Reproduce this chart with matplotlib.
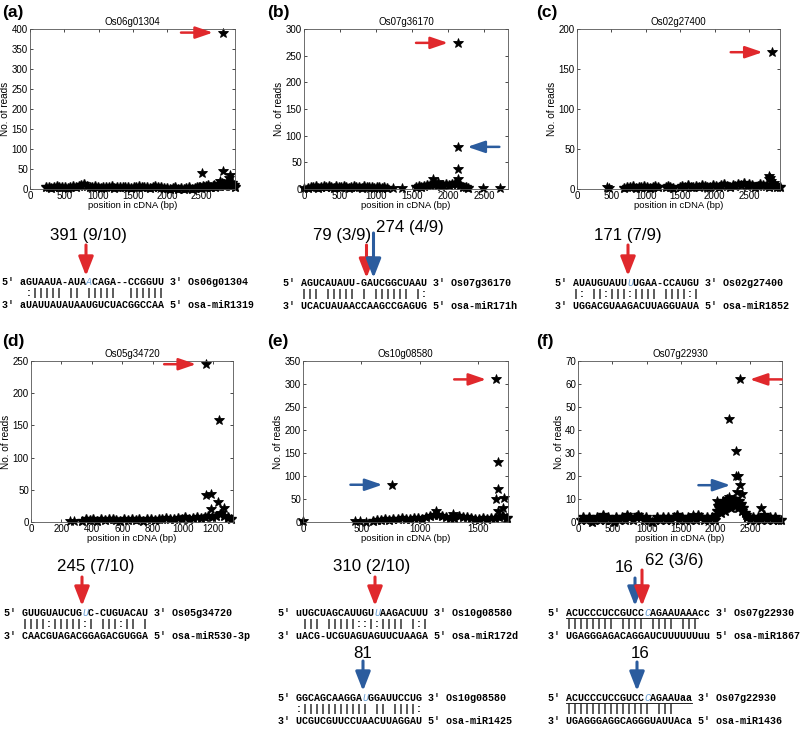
import numpy as np
import matplotlib
matplotlib.use("Agg")
import matplotlib.pyplot as plt
from matplotlib.patches import FancyArrowPatch
from matplotlib.lines import Line2D

plt.rcParams["font.family"] = ["Liberation Sans", "DejaVu Sans"]

W, H = 800, 730
RED = "#e0282c"
BLUE = "#2b5c9e"
CUT = "#6a9fd4"
SEQ_FONT = "Liberation Mono"
SEQ_FS = 7.2
NUM_FS = 12.2
AX_FS = 7

# ---------------- read counts along each cDNA ----------------
# low-coverage stretches: (first bp, last bp, reads sampled along the stretch)
a_low = [
    (230, 1950, [4, 6, 3, 5, 7, 4, 6, 5, 3, 6, 8, 5, 7, 10, 13, 8, 6, 4, 7, 5, 3, 6,
                 4, 5, 7, 3, 5, 6, 4, 6, 5, 3, 4, 6, 7, 5, 4, 6, 3, 5, 7, 4, 6, 3]),
    (2000, 2440, [3, 0, 2, 4, 1, 3, 0, 2, 4, 1, 3, 5]),
    (2460, 2990, [4, 6, 3, 8, 5, 7, 4, 9, 6, 5, 7, 10, 6, 8, 12, 7, 9, 15, 8, 10, 18,
                  9, 12, 7, 14, 9, 6]),
]
a_peak_x = [2505, 2810, 2810, 2770, 2915, 2905, 2930]
a_peak_y = [40, 391, 45, 20, 35, 27, 14]

b_low = [
    (60, 1150, [2, 4, 3, 5, 2, 4, 6, 3, 5, 4, 2, 5, 3, 4, 6, 3, 2, 4, 5, 3, 4, 2, 5,
                3, 4, 3, 2, 4, 3, 2, 3, 2]),
    (1550, 2280, [3, 5, 4, 6, 8, 7, 10, 9, 8, 6, 7, 9, 8, 10, 12, 9, 7, 4, 3, 2]),
]
b_peak_x = [0, 1240, 1360, 2480, 2720, 2132, 2132, 2132, 2132, 1794, 1863]
b_peak_y = [1, 1, 1, 1, 1, 274, 79, 38, 18, 18, 14]

c_low = [
    (690, 1180, [1, 3, 2, 4, 1, 3, 2, 4, 3, 1, 2, 4, 2]),
    (1290, 1390, [2, 4, 3, 1]),
    (1490, 2950, [2, 4, 3, 5, 3, 2, 4, 3, 5, 4, 2, 3, 5, 4, 3, 5, 6, 4, 3, 5, 4, 6,
                  5, 7, 4, 6, 5, 3, 4, 6, 5, 4, 3, 5, 4, 2, 3]),
]
c_peak_x = [440, 470, 2839, 2795, 2810, 2785, 2825, 2860, 2880]
c_peak_y = [2, 1, 171, 16, 14, 12, 10, 8, 5]

d_low = [
    (335, 1320, [2, 4, 3, 5, 2, 4, 3, 5, 4, 3, 2, 4, 3, 5, 3, 4, 2, 5, 4, 3, 5, 4,
                 6, 5, 4, 6, 5, 7, 5, 6, 8, 6, 7, 9, 8, 10, 12, 9, 8, 5]),
]
d_peak_x = [260, 285, 1151, 1241, 1151, 1184, 1184, 1228, 1272, 1250, 1295]
d_peak_y = [1, 1, 245, 158, 42, 43, 20, 31, 22, 14, 6]

e_low = [
    (600, 1750, [3, 5, 4, 6, 5, 7, 6, 8, 7, 6, 8, 9, 7, 10, 12, 15, 16, 14, 10, 8,
                 9, 12, 11, 11, 8, 7, 6, 8, 7, 9, 8, 10, 12, 9]),
]
e_peak_x = [0, 445, 490, 540, 763, 1651, 1666, 1672, 1654, 1720, 1714, 1672, 1137,
            1286, 1700, 1740]
e_peak_y = [3, 2, 3, 1, 81, 310, 130, 72, 50, 53, 30, 25, 25, 18, 12, 8]

f_low = [
    (40, 1990, [1, 2, 1, 2, 0, 1, 2, 1, 3, 1, 2, 1, 0, 2, 1, 2, 1, 3, 2, 1, 2, 3, 2,
                1, 2, 1, 0, 1, 2, 1, 2, 1, 2, 1, 2, 3, 1, 2, 1, 2, 1, 2, 1, 3, 2, 1,
                2, 1, 2, 1]),
    (2000, 2450, [3, 5, 7, 6, 8, 4, 6, 9, 7, 5, 8, 10, 9, 7, 8, 6, 9, 8, 10, 7, 9, 8,
                  6, 9, 7, 8, 5, 6, 4, 3, 2]),
    (2460, 2950, [2, 1, 2, 1, 2, 1, 3, 1, 2, 1, 2, 1, 1]),
]
f_peak_x = [2356, 2201, 2293, 2300, 2320, 2356, 2380, 2307, 2196, 2022, 2660, 1678]
f_peak_y = [62, 45, 31, 20, 20, 16, 12, 13, 11, 9, 6, 3]

genes = ["Os06g01304", "Os07g36170", "Os02g27400", "Os05g34720", "Os10g08580", "Os07g22930"]
panel_tags = ["(a)", "(b)", "(c)", "(d)", "(e)", "(f)"]
x_max = [2990, 2830, 2950, 1330, 1755, 2965]
x_step = [500, 500, 500, 200, 500, 500]
x_last = [2500, 2500, 2500, 1200, 1500, 2500]
y_max = [400, 300, 200, 250, 350, 70]
y_step = [50, 50, 50, 50, 50, 10]

# cleavage peaks pointed at inside the plots: (bp, reads, arrow comes from, colour)
a_marks = [(2810, 391, "left", RED)]
b_marks = [(2132, 274, "left", RED), (2132, 79, "right", BLUE)]
c_marks = [(2839, 171, "left", RED)]
d_marks = [(1151, 245, "left", RED)]
e_marks = [(1651, 310, "left", RED), (763, 81, "left", BLUE)]
f_marks = [(2356, 62, "right", RED), (2356, 16, "left", BLUE)]

# ---------------- target / miRNA duplexes ----------------
a_target, a_pairs, a_mirna = "aGUAAUA-AUAACAGA--CCGGUU", " :||||| || |||||  ||||||", "aUAUUAUAUAAUGUCUACGGCCAA"
b_target, b_pairs, b_mirna = "AGUCAUAUU-GAUCGGCUAAU", "||| ||||| | |||||| |:", "UCACUAUAACCAAGCCGAGUG"
c_target, c_pairs, c_mirna = "AUAUGUAUUUUGAA-CCAUGU", "|: ||:|||:|||| ||||:|", "UGGACGUAAGACUUAGGUAUA"
d_target, d_pairs, d_mirna = "GUUGUAUCUGUC-CUGUACAU", "||||:|||||:| |||:|| |", "CAACGUAGACGGAGACGUGGA"
e1_target, e1_pairs, e1_mirna = "uUGCUAGCAUUGUUAAGACUUU", " ||| |||||::|:|||| |:|", "uACG-UCGUAGUAGUUCUAAGA"
e2_target, e2_pairs, e2_mirna = "GGCAGCAAGGAUGGAUUCCUG", ":||||||||||| || ||||:", "UCGUCGUUCCUAACUUAGGAU"
f1_target, f1_pairs, f1_mirna = "ACUCCCUCCGUCCCAGAAUAAAcc", "|||||||| |||| |||| |||", "UGAGGGAGACAGGAUCUUUUUUuu"
f2_target, f2_pairs, f2_mirna = "ACUCCCUCCGUCCCAGAAUaa", "|||||||||||||| |||", "UGAGGGAGGCAGGGUAUUAca"
mirnas = ["osa-miR1319", "osa-miR171h", "osa-miR1852", "osa-miR530-3p",
          "osa-miR172d", "osa-miR1425", "osa-miR1867", "osa-miR1436"]
cut_index = [11, None, 9, 10, 13, 11, 13, 13]
underlined = [0, 0, 0, 0, 0, 0, 22, 21]

# ---------------- layout (pixels from the top-left corner) ----------------
ax_boxes = [(30, 29, 235, 189), (304, 29, 508, 189), (577, 29, 780, 189),
            (31, 361, 233, 522), (303, 361, 508, 522), (578, 361, 782, 522)]
tag_pos = [(2, 5), (267, 5), (536, 5), (2, 334), (267, 334), (536, 334)]
seq_pos = [(2, 282), (283, 283), (555, 283), (4, 613), (278, 613), (278, 698),
           (548, 613), (548, 698)]


def fig_x(x):
    return x / W


def fig_y(y):
    return 1 - y / H


def draw_panel(fig, box, gene, xmax, xstep, xlast, ymax, ystep, low, px, py, marks):
    l, t, r, b = box
    ax = fig.add_axes([fig_x(l), fig_y(b), (r - l) / W, (b - t) / H])
    for start, stop, vals in low:
        xs = np.linspace(start, stop, len(vals))
        ax.plot(xs, vals, "*", color="k", ms=7.8, mew=1.0, clip_on=False)
    ax.plot(px, py, "*", color="k", ms=7.4, mew=0.6, clip_on=False)
    for mx, my, side, color in marks:
        off = -30 if side == "left" else 30
        ax.annotate("", xy=(mx, my), xytext=(off, 0), textcoords="offset points",
                    annotation_clip=False,
                    arrowprops=dict(arrowstyle="-|>,head_length=1.05,head_width=0.36",
                                    mutation_scale=10, lw=1.8, color=color,
                                    shrinkA=0, shrinkB=7))
    ax.set_xlim(0, xmax)
    ax.set_ylim(0, ymax)
    ax.set_xticks(np.arange(0, xlast + 1, xstep))
    ax.set_yticks(np.arange(0, ymax + 1, ystep))
    ax.tick_params(direction="in", length=2.5, width=0.5, labelsize=AX_FS, pad=1.5,
                   top=True, right=True)
    for s in ax.spines.values():
        s.set_linewidth(0.6)
        s.set_color("#555555")
    ax.set_title(gene, fontsize=7, pad=3)
    ax.set_xlabel("position in cDNA (bp)", fontsize=6.8, labelpad=0)
    ax.set_ylabel("No. of reads", fontsize=7.2, labelpad=1)
    return ax


def seq_text(fig, x, yb, s, **kw):
    fig.text(fig_x(x), fig_y(yb), s, family=SEQ_FONT, fontsize=SEQ_FS,
             va="baseline", ha="left", **kw)


def draw_duplex(fig, x0, y0, target, pairs, mirna, gene, mir, cut, underline):
    cw = 0.6 * SEQ_FS * 100 / 72
    top = "5' " + target + " 3' " + gene
    yb = y0 + 3
    if cut is None:
        seq_text(fig, x0, yb, top, weight="bold")
    else:
        k = 3 + cut
        seq_text(fig, x0, yb, top[:k], weight="bold")
        seq_text(fig, x0 + k * cw, yb, top[k], style="italic", color=CUT)
        seq_text(fig, x0 + (k + 1) * cw, yb, top[k + 1:], weight="bold")
    seq_text(fig, x0 + 3 * cw, yb + 11.4, pairs, weight="bold")
    seq_text(fig, x0, yb + 22.8, "3' " + mirna + " 5' " + mir, weight="bold")
    if underline:
        yl = fig_y(y0 + 5)
        fig.add_artist(Line2D([fig_x(x0 + 3 * cw), fig_x(x0 + (3 + underline) * cw)],
                              [yl, yl], color="k", lw=0.6))


def down_arrow(fig, x, y_top, y_tip, color):
    fig.add_artist(FancyArrowPatch((fig_x(x), fig_y(y_top)), (fig_x(x), fig_y(y_tip)),
                                   transform=fig.transFigure,
                                   arrowstyle="-|>,head_length=1.15,head_width=0.45",
                                   mutation_scale=10, lw=2.2, color=color,
                                   shrinkA=0, shrinkB=0))


fig = plt.figure(figsize=(8, 7.3), dpi=100)

lows = [a_low, b_low, c_low, d_low, e_low, f_low]
peaks_x = [a_peak_x, b_peak_x, c_peak_x, d_peak_x, e_peak_x, f_peak_x]
peaks_y = [a_peak_y, b_peak_y, c_peak_y, d_peak_y, e_peak_y, f_peak_y]
marks = [a_marks, b_marks, c_marks, d_marks, e_marks, f_marks]
for i in range(6):
    draw_panel(fig, ax_boxes[i], genes[i], x_max[i], x_step[i], x_last[i], y_max[i],
               y_step[i], lows[i], peaks_x[i], peaks_y[i], marks[i])
    fig.text(fig_x(tag_pos[i][0]), fig_y(tag_pos[i][1]), panel_tags[i], fontsize=12.5,
             weight="bold", va="top", ha="left")

duplexes = [(a_target, a_pairs, a_mirna), (b_target, b_pairs, b_mirna),
            (c_target, c_pairs, c_mirna), (d_target, d_pairs, d_mirna),
            (e1_target, e1_pairs, e1_mirna), (e2_target, e2_pairs, e2_mirna),
            (f1_target, f1_pairs, f1_mirna), (f2_target, f2_pairs, f2_mirna)]
duplex_gene = [0, 1, 2, 3, 4, 4, 5, 5]
for i, (tg, pr, mi) in enumerate(duplexes):
    draw_duplex(fig, seq_pos[i][0], seq_pos[i][1], tg, pr, mi, genes[duplex_gene[i]],
                mirnas[i], cut_index[i], underlined[i])

# cleavage arrows over the duplexes: (x, shaft top, tip, colour)
seq_arrows = [(86, 245, 276, RED), (366.5, 245, 278, RED), (373.5, 233, 278, BLUE),
              (628, 245, 276, RED), (82, 577, 606, RED), (375, 577, 606, RED),
              (363, 661, 691, BLUE), (635, 578, 606, BLUE), (642, 570, 606, RED),
              (637, 662, 691, BLUE)]
for x, yt, yb, c in seq_arrows:
    down_arrow(fig, x, yt, yb, c)

# read numbers (and fraction of degradome libraries) above the arrows
num_labels = [("391 (9/10)", 50, 240, "left"), ("79 (3/9)", 371, 240, "right"),
              ("274 (4/9)", 376, 232, "left"), ("171 (7/9)", 662, 240, "right"),
              ("245 (7/10)", 57, 571, "left"), ("310 (2/10)", 333, 571, "left"),
              ("81", 363, 658, "center"), ("16", 634, 572, "right"),
              ("62 (3/6)", 645, 565, "left"), ("16", 640, 658, "center")]
for txt, x, y, ha in num_labels:
    fig.text(fig_x(x), fig_y(y), txt, fontsize=NUM_FS, va="baseline", ha=ha)

fig.savefig("out.png", dpi=100)
